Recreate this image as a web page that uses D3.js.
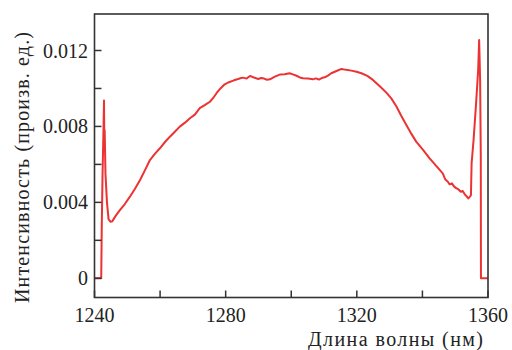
<!DOCTYPE html>
<html><head><meta charset="utf-8">
<script src="https://cdn.jsdelivr.net/npm/d3@7"></script>
<style>body{margin:0;background:#fff}svg{display:block}
text{font-family:"Liberation Serif","DejaVu Serif","Times New Roman",Times,serif;}</style>
</head><body>
<script>
// Data: wavelength (nm) and intensity (arb. units)
const wavelength = [1240,1242.05,1242.2,1242.45,1242.7,1242.9,1243.0,1243.1,1243.35,1243.8,1244.3,1244.9,1245.4,
1246.5,1247.8,1249.2,1250.8,1252.3,1253.9,1255.4,1256.9,1258.4,1259.95,1261.5,1263.0,1264.5,1266.0,1267.6,1269.1,1270.6,
1272.1,1273.6,1275.2,1276.2,1277.2,1278.4,1279.7,1281.0,1282.3,1283.0,1283.8,1284.5,1285.3,1286.4,1287.4,1288.6,1289.9,1290.8,1291.7,1292.6,1293.5,1295.0,
1296.5,1298.0,1299.5,1300.5,1301.6,1302.6,1303.6,1305.1,1306.6,1307.5,1308.4,1309.3,1310.2,1311.2,1312.2,1313.8,1315.3,1316.8,1318.3,1319.9,
1321.4,1323.2,1324.9,1327.0,1329.0,1330.5,1332.0,1333.5,1335.1,1336.6,1338.1,1340.2,1342.2,1344.2,1346.2,1347.0,1347.7,1348.3,
1349.0,1349.7,1350.3,1351.0,1351.7,1352.3,1353.0,1353.5,1354.0,1354.5,1354.8,1355.0,1355.6,1356.3,1357.0,1357.3,1357.6,1357.8,
1357.85,1360];
const intensity = [0,0,0.00254,0.00544,0.0075,0.00936,0.0070,0.0078,0.0055,0.0040,0.0031,0.00298,0.0030,
0.0033,0.0036,0.0039,0.0043,0.0047,0.00518,0.0057,0.00623,0.00655,0.00685,0.00718,0.00746,0.00772,0.00799,0.0082,0.00843,0.00862,
0.00896,0.00912,0.0093,0.0095,0.00975,0.01,0.01022,0.01033,0.01041,0.01046,0.0105,0.01054,0.01057,0.01052,0.01066,0.01058,0.0105,0.01055,0.01052,0.01046,0.01048,0.01062,
0.01073,0.01075,0.0108,0.01074,0.01067,0.01058,0.01054,0.01052,0.01048,0.01053,0.01047,0.01055,0.01059,0.01068,0.0108,0.01092,0.01103,0.01098,0.01094,0.01088,
0.0108,0.01066,0.01045,0.01012,0.00978,0.00948,0.00908,0.00858,0.00808,0.00762,0.0072,0.00676,0.00632,0.00592,0.00553,0.0052,0.0051,0.00495,
0.005,0.00483,0.00475,0.00468,0.00456,0.0046,0.0044,0.00432,0.00421,0.0043,0.00439,0.00606,0.00729,0.00904,0.01097,0.01255,0.01045,0.0064,
0,0];
const xTicks = [1240,1260,1280,1300,1320,1340,1360];
const xLabels = [1240,1280,1320,1360];
const yTicks = [0,0.002,0.004,0.006,0.008,0.010,0.012];
const yLabels = [0,0.004,0.008,0.012];
const xTitle = "Длина волны (нм)";
const yTitle = "Интенсивность (произв. ед.)";

const W = 512, H = 350;
const L = 94.5, R = 488, T = 14, B = 297.5;
const svg = d3.select("body").append("svg").attr("width", W).attr("height", H);
const x = d3.scaleLinear().domain([1240,1360]).range([L,R]);
const y = d3.scaleLinear().domain([0,0.012]).range([278.3,50.5]);
const axisColor = "#333";

// data line
const pts = wavelength.map((w,i)=>[w,intensity[i]]);
svg.append("path").datum(pts)
  .attr("fill","none").attr("stroke","#ec3232").attr("stroke-width",2).attr("stroke-linejoin","round")
  .attr("d", d3.line().x(d=>x(d[0])).y(d=>y(d[1])));

// frame
svg.append("rect").attr("x",L).attr("y",T).attr("width",R-L).attr("height",B-T)
  .attr("fill","none").attr("stroke",axisColor).attr("stroke-width",1.6);

// y ticks (inward)
svg.selectAll(".yt").data(yTicks).join("line")
  .attr("x1",L).attr("x2",L+7).attr("y1",d=>y(d)).attr("y2",d=>y(d))
  .attr("stroke",axisColor).attr("stroke-width",1.5);
svg.selectAll(".yl").data(yLabels).join("text")
  .attr("x",88).attr("y",d=>y(d)).attr("dy","0.35em").attr("text-anchor","end")
  .attr("font-size",20).attr("fill","#222")
  .text(d=>d===0?"0":d3.format(".3f")(d));

// x ticks (inward)
svg.selectAll(".xt").data(xTicks).join("line")
  .attr("x1",d=>x(d)).attr("x2",d=>x(d)).attr("y1",B).attr("y2",B-7)
  .attr("stroke",axisColor).attr("stroke-width",1.5);
svg.selectAll(".xl").data(xLabels).join("text")
  .attr("x",d=>x(d)).attr("y",321.5).attr("text-anchor","middle")
  .attr("font-size",20).attr("fill","#222")
  .text(d=>d);

// titles
svg.append("text").attr("x",308).attr("y",346).attr("text-anchor","start")
  .attr("textLength",175).attr("lengthAdjust","spacing")
  .attr("font-size",20).attr("fill","#222").text(xTitle);
svg.append("text").attr("transform","translate(29,303) rotate(-90)").attr("text-anchor","start")
  .attr("textLength",271).attr("lengthAdjust","spacing")
  .attr("font-size",20).attr("fill","#222").text(yTitle);
</script>
</body></html>
